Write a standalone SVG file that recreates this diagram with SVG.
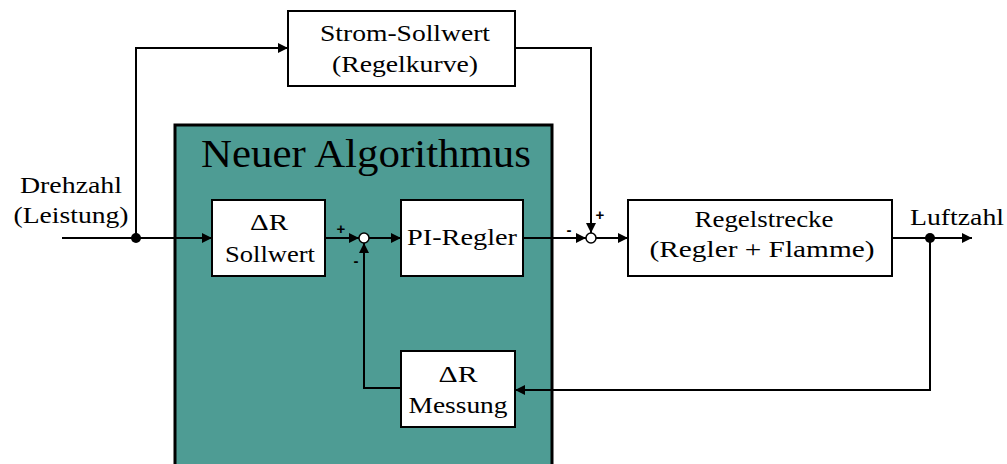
<svg xmlns="http://www.w3.org/2000/svg" width="1007" height="464" viewBox="0 0 1007 464">
  <style>
    .blk { fill: #ffffff; stroke: #000; stroke-width: 2; }
    .wire { fill: none; stroke: #000; stroke-width: 2; }
    .sum { fill: #ffffff; stroke: #000; stroke-width: 1.5; }
  </style>
  <defs>
    <marker id="arr" viewBox="0 0 10 10" refX="10" refY="5" markerWidth="10" markerHeight="10" markerUnits="userSpaceOnUse" orient="auto">
      <path d="M0,0 L10,5 L0,10 Z" fill="#000"/>
    </marker>
  </defs>

  <!-- algorithm area -->
  <g id="algorithmus">
    <rect x="175" y="125" width="377" height="345" fill="#4e9c94" stroke="#000" stroke-width="3"/>
    <text x="366" y="167" font-family="Liberation Serif, serif" font-size="40" text-anchor="middle" textLength="330" lengthAdjust="spacingAndGlyphs">Neuer Algorithmus</text>
  </g>

  <!-- connectors -->
  <g id="connectors">
    <path class="wire" d="M62,238 H212" marker-end="url(#arr)"/>
    <path class="wire" d="M136,238 V48 H288" marker-end="url(#arr)"/>
    <path class="wire" d="M515,48 H591 V233" marker-end="url(#arr)"/>
    <path class="wire" d="M325,238 H359" marker-end="url(#arr)"/>
    <path class="wire" d="M369,238 H401" marker-end="url(#arr)"/>
    <path class="wire" d="M401,388 H364 V243" marker-end="url(#arr)"/>
    <path class="wire" d="M523,238 H586" marker-end="url(#arr)"/>
    <path class="wire" d="M596,238 H628" marker-end="url(#arr)"/>
    <path class="wire" d="M892,238 H972" marker-end="url(#arr)"/>
    <path class="wire" d="M930,238 V390 H515" marker-end="url(#arr)"/>
    <circle cx="136" cy="238" r="5" fill="#000"/>
    <circle cx="930" cy="238" r="5" fill="#000"/>
    <text x="341" y="234" font-family="Liberation Sans, sans-serif" font-size="15" font-weight="bold" text-anchor="middle">+</text>
    <text x="356" y="266" font-family="Liberation Sans, sans-serif" font-size="15" font-weight="bold" text-anchor="middle">-</text>
    <text x="569" y="235" font-family="Liberation Sans, sans-serif" font-size="15" font-weight="bold" text-anchor="middle">-</text>
    <text x="600" y="220" font-family="Liberation Sans, sans-serif" font-size="15" font-weight="bold" text-anchor="middle">+</text>
  </g>

  <g id="sum1"><circle class="sum" cx="364" cy="238" r="5"/></g>
  <g id="sum2"><circle class="sum" cx="591" cy="238" r="5"/></g>

  <g id="eingang">
    <text x="71" y="193" font-family="Liberation Serif, serif" font-size="24" text-anchor="middle" textLength="102" lengthAdjust="spacingAndGlyphs">Drehzahl</text>
    <text x="71" y="223" font-family="Liberation Serif, serif" font-size="24" text-anchor="middle" textLength="115" lengthAdjust="spacingAndGlyphs">(Leistung)</text>
  </g>

  <g id="ausgang">
    <text x="957" y="225" font-family="Liberation Serif, serif" font-size="24" text-anchor="middle" textLength="94" lengthAdjust="spacingAndGlyphs">Luftzahl</text>
  </g>

  <g id="strom-sollwert">
    <rect class="blk" x="288" y="11" width="227" height="75"/>
    <text x="405" y="41" font-family="Liberation Serif, serif" font-size="24" text-anchor="middle" textLength="170" lengthAdjust="spacingAndGlyphs">Strom-Sollwert</text>
    <text x="405" y="72" font-family="Liberation Serif, serif" font-size="24" text-anchor="middle" textLength="146" lengthAdjust="spacingAndGlyphs">(Regelkurve)</text>
  </g>

  <g id="dr-sollwert">
    <rect class="blk" x="212" y="200" width="113" height="76"/>
    <text x="269" y="230" font-family="Liberation Serif, serif" font-size="24" text-anchor="middle" textLength="38" lengthAdjust="spacingAndGlyphs">ΔR</text>
    <text x="270" y="262" font-family="Liberation Serif, serif" font-size="24" text-anchor="middle" textLength="90" lengthAdjust="spacingAndGlyphs">Sollwert</text>
  </g>

  <g id="pi-regler">
    <rect class="blk" x="401" y="200" width="122" height="76"/>
    <text x="462" y="245" font-family="Liberation Serif, serif" font-size="24" text-anchor="middle" textLength="110" lengthAdjust="spacingAndGlyphs">PI-Regler</text>
  </g>

  <g id="regelstrecke">
    <rect class="blk" x="628" y="200" width="264" height="76"/>
    <text x="764" y="227" font-family="Liberation Serif, serif" font-size="24" text-anchor="middle" textLength="139" lengthAdjust="spacingAndGlyphs">Regelstrecke</text>
    <text x="762" y="257" font-family="Liberation Serif, serif" font-size="24" text-anchor="middle" textLength="225" lengthAdjust="spacingAndGlyphs">(Regler + Flamme)</text>
  </g>

  <g id="dr-messung">
    <rect class="blk" x="401" y="351" width="114" height="76"/>
    <text x="458" y="382" font-family="Liberation Serif, serif" font-size="24" text-anchor="middle" textLength="39" lengthAdjust="spacingAndGlyphs">ΔR</text>
    <text x="458" y="413" font-family="Liberation Serif, serif" font-size="24" text-anchor="middle" textLength="99" lengthAdjust="spacingAndGlyphs">Messung</text>
  </g>
</svg>
